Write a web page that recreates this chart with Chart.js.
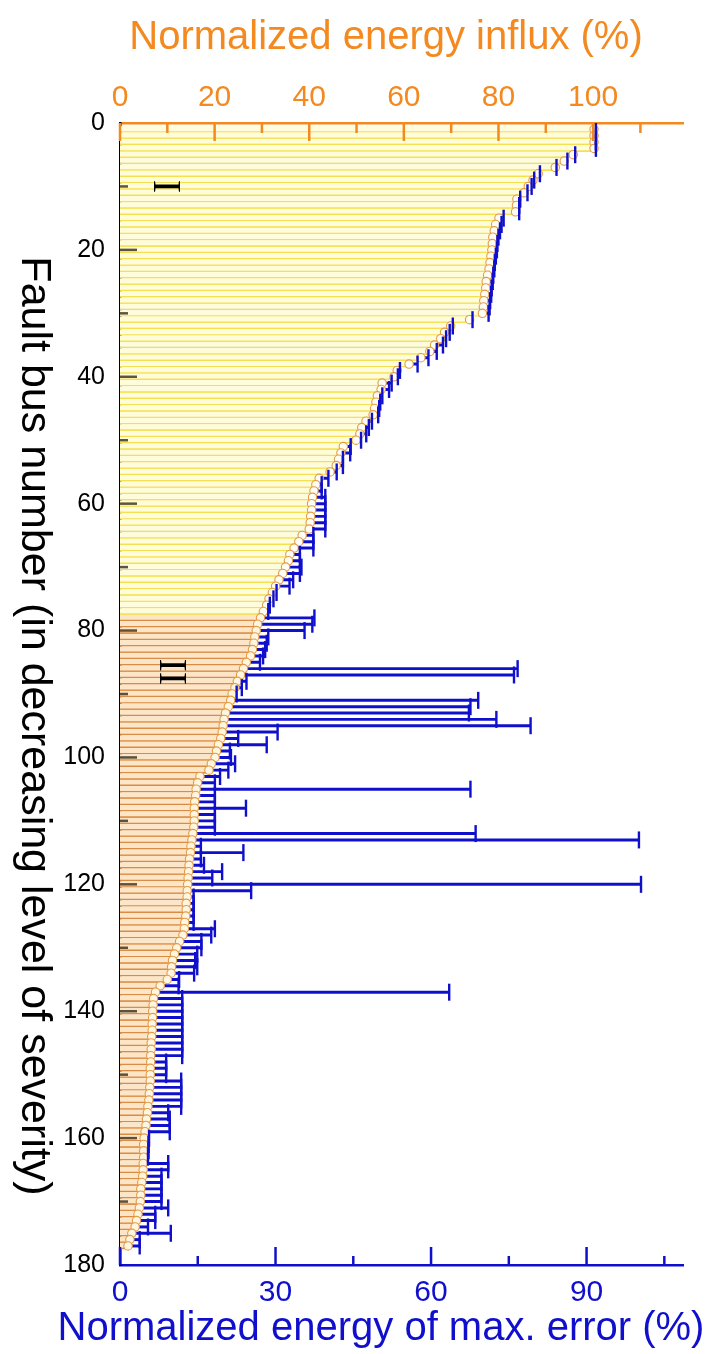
<!DOCTYPE html>
<html><head><meta charset="utf-8">
<script src="https://cdn.jsdelivr.net/npm/chart.js@4/dist/chart.umd.min.js"></script>
<style>html,body{margin:0;padding:0;background:#fff;}canvas{display:block;}</style>
</head><body>
<canvas id="c" width="708" height="1354"></canvas>
<script>
// Normalized energy influx (%) per fault bus, in decreasing level of severity (bus 1..177)
const influx = [
 100.2,100.2,100.2,100.2,95.8,93.9,92.0,88.4,87.3,86.3,
 85.4,83.9,83.8,83.6,80.1,79.4,79.1,78.8,78.7,78.6,
 78.4,78.2,78.0,77.7,77.4,77.3,77.1,76.9,76.8,76.6,
 73.9,69.9,68.6,67.8,66.5,65.5,63.6,61.1,58.6,57.9,
 55.4,55.2,54.4,54.1,53.8,53.5,52.0,51.1,50.7,49.9,
 47.2,46.7,46.2,45.7,44.4,42.1,41.4,41.0,40.7,40.5,
 40.5,40.3,40.2,40.0,38.5,37.8,36.8,35.9,35.6,35.0,
 34.4,33.6,32.9,32.2,31.5,31.0,30.3,29.7,29.1,28.8,
 28.5,28.3,28.0,27.6,26.7,26.1,25.5,24.8,24.3,23.7,
 23.4,22.9,22.3,22.0,21.8,21.6,21.3,20.8,20.4,20.1,
 19.3,18.8,16.9,16.4,16.1,16.0,15.8,15.7,15.7,15.7,
 15.6,15.4,15.2,15.0,14.9,14.7,14.6,14.5,14.4,14.3,
 14.2,14.2,14.0,14.0,13.9,13.7,13.6,13.3,12.6,12.0,
 11.5,11.1,10.9,10.8,10.0,8.5,7.5,7.1,7.0,6.9,
 6.9,6.8,6.8,6.7,6.6,6.6,6.5,6.5,6.4,6.4,
 6.4,6.3,6.2,6.1,5.9,5.8,5.6,5.5,5.3,5.1,
 5.0,5.0,5.0,4.9,4.9,4.8,4.6,4.4,4.4,4.3,
 4.1,3.8,3.5,3.2,2.5,2.1,1.7
];
// Normalized energy of max. error (%) per fault bus (end of blue error bar)
const maxError = [
 91.8,91.8,91.8,91.8,87.8,86.3,84.2,81.0,79.9,79.4,
 78.6,77.2,77.0,77.0,74.0,73.6,73.3,73.0,72.8,72.7,
 72.5,72.3,72.2,72.0,71.9,71.7,71.6,71.4,71.3,71.1,
 68.0,64.2,63.6,62.9,62.3,61.1,59.5,57.4,54.0,53.6,
 52.4,51.9,50.6,50.2,50.0,49.8,48.6,48.0,47.5,46.5,
 44.5,44.4,43.0,43.0,41.8,40.2,38.9,38.9,39.6,39.6,
 39.6,39.6,39.6,39.6,37.3,37.3,37.3,34.7,34.7,35.0,
 34.7,33.4,32.7,30.2,29.6,28.9,28.6,37.5,37.1,35.6,
 28.6,28.3,28.0,27.6,27.0,76.7,76.0,24.4,23.5,22.5,
 69.1,67.6,67.3,72.6,79.2,30.4,22.8,28.3,21.2,21.4,
 22.2,20.9,19.3,18.3,67.6,18.3,18.3,24.3,18.3,18.3,
 18.3,68.6,100.1,15.6,23.8,15.6,16.2,19.7,17.8,100.5,
 25.3,14.2,14.2,14.2,14.2,14.2,18.3,17.6,15.7,15.7,
 14.9,14.5,14.9,14.3,11.4,11.3,63.5,12.0,12.0,12.0,
 12.0,12.0,12.0,12.0,12.0,12.0,12.0,8.9,8.9,8.9,
 11.8,11.8,11.8,11.8,11.8,9.3,9.6,9.6,9.6,5.6,
 5.5,5.5,5.4,9.3,9.3,8.0,8.0,8.0,8.0,8.0,
 9.3,6.8,6.8,5.4,9.8,3.8,3.8
];
const lastBusOfGroupI = 77;           // buses 1..77 = group I, 78..177 = group II
const groupLabels = ['I', 'II'];
const topTickLabels = [0, 20, 40, 60, 80, 100];
const bottomTickLabels = [0, 30, 60, 90];
const leftTickLabels = [0, 20, 40, 60, 80, 100, 120, 140, 160, 180];
const titles = {
  top: 'Normalized energy influx (%)',
  bottom: 'Normalized energy of max. error (%)',
  left: 'Fault bus number (in decreasing level of severity)'
};
const busNumbers = influx.map((v, i) => i + 1);

const ORANGE = '#f3891f';
const BLUE = '#1010cc';
const FONT = "'Liberation Sans', Arial, sans-serif";

const inGroupI = (i) => busNumbers[i] <= lastBusOfGroupI;

const decorations = {
  id: 'decorations',
  afterDatasetsDraw(chart) {
    const {ctx, chartArea: a, scales} = chart;
    const xt = scales.xTop, xb = scales.x, y = scales.y;
    ctx.save();
    ctx.lineCap = 'butt';
    const seg = (x1, y1, x2, y2) => { ctx.beginPath(); ctx.moveTo(x1, y1); ctx.lineTo(x2, y2); ctx.stroke(); };
    // top axis inside ticks
    ctx.strokeStyle = ORANGE; ctx.lineWidth = 2.5;
    for (let v = 0; v <= 110; v += 10) {
      const px = xt.getPixelForValue(v);
      seg(px, a.top, px, a.top + (v % 20 === 0 ? 18 : 10));
    }
    // bottom axis inside ticks
    ctx.strokeStyle = BLUE;
    for (let v = 0; v <= 105; v += 15) {
      const px = xb.getPixelForValue(v);
      seg(px, a.bottom, px, a.bottom - (v % 30 === 0 ? 18 : 9));
    }
    // left axis inside ticks
    ctx.strokeStyle = 'rgba(40,30,10,0.75)';
    for (let v = 10; v < 180; v += 10) {
      const py = y.getPixelForValue(v);
      seg(a.left, py, a.left + (v % 20 === 0 ? 17 : 8), py);
    }
    // group labels (rotated)
    ctx.fillStyle = '#000';
    ctx.font = "40px 'Liberation Serif', 'Times New Roman', serif";
    ctx.textAlign = 'center'; ctx.textBaseline = 'middle';
    const marks = [[9.5, 10, groupLabels[0]], [10.6, 86.5, groupLabels[1]]];
    marks.forEach(([vx, vy, t]) => {
      ctx.save();
      ctx.translate(xt.getPixelForValue(vx), y.getPixelForValue(vy));
      ctx.rotate(Math.PI / 2);
      ctx.fillText(t, 0, 0);
      ctx.restore();
    });
    // axis titles
    ctx.textBaseline = 'alphabetic';
    ctx.font = '40px ' + FONT;
    ctx.fillStyle = ORANGE;
    ctx.fillText(titles.top, 386, 49);
    ctx.fillStyle = BLUE;
    ctx.fillText(titles.bottom, 381, 1340);
    ctx.save();
    ctx.font = '43px ' + FONT;
    ctx.fillStyle = '#000';
    ctx.textBaseline = 'middle';
    ctx.translate(34, 726);
    ctx.rotate(Math.PI / 2);
    ctx.fillText(titles.left, 0, 0);
    ctx.restore();
    ctx.restore();
  }
};

new Chart(document.getElementById('c'), {
  type: 'bar',
  data: {
    datasets: [
      {
        label: 'Max. error',
        xAxisID: 'x', yAxisID: 'y',
        data: maxError.map((e, i) => ({ y: busNumbers[i], x: [0, e] })),
        backgroundColor: BLUE,
        barThickness: 2.3,
        grouped: false,
        order: 4
      },
      {
        label: 'Energy influx',
        xAxisID: 'xTop', yAxisID: 'y',
        data: influx.map((v, i) => ({ y: busNumbers[i], x: v })),
        backgroundColor: influx.map((v, i) => inGroupI(i) ? '#fffcdc' : '#fde6c8'),
        borderColor: influx.map((v, i) => inGroupI(i) ? '#f4e050' : '#d88c45'),
        borderWidth: { top: 0, right: 0, left: 0, bottom: 1.7 },
        barPercentage: 1, categoryPercentage: 1,
        grouped: false,
        order: 3
      },
      {
        type: 'scatter',
        label: 'Influx marker',
        xAxisID: 'xTop', yAxisID: 'y',
        data: influx.map((v, i) => ({ y: busNumbers[i], x: v })),
        pointRadius: 4.2,
        pointBorderWidth: 1.1,
        pointBorderColor: '#e49a45',
        pointBackgroundColor: influx.map((v, i) => inGroupI(i) ? '#fffef6' : '#fff6e2'),
        order: 2
      },
      {
        type: 'scatter',
        label: 'Error cap',
        xAxisID: 'x', yAxisID: 'y',
        data: maxError.map((e, i) => ({ y: busNumbers[i], x: e })),
        pointStyle: 'line',
        rotation: 90,
        pointRadius: 8.5,
        pointBorderWidth: 2.4,
        pointBorderColor: BLUE,
        order: 1
      }
    ]
  },
  options: {
    indexAxis: 'y',
    responsive: false,
    animation: false,
    devicePixelRatio: 1,
    layout: { padding: { left: 0, right: 25, top: 0, bottom: 0 } },
    plugins: { legend: { display: false }, tooltip: { enabled: false } },
    scales: {
      xTop: {
        type: 'linear', position: 'top', min: 0, max: 119, offset: false,
        grid: { display: false, drawTicks: false },
        border: { display: true, color: ORANGE, width: 2.5 },
        ticks: {
          stepSize: 20, includeBounds: false, autoSkip: false, maxRotation: 0,
          color: ORANGE, font: { size: 30, family: FONT }, padding: 7,
          callback: (v) => topTickLabels.includes(v) ? String(v) : ''
        },
        afterFit: (s) => { s.height = 123; }
      },
      x: {
        type: 'linear', position: 'bottom', min: 0, max: 108.6, offset: false,
        grid: { display: false, drawTicks: false },
        border: { display: true, color: BLUE, width: 2.5 },
        ticks: {
          stepSize: 30, includeBounds: false, autoSkip: false, maxRotation: 0,
          color: BLUE, font: { size: 30, family: FONT }, padding: 10,
          callback: (v) => bottomTickLabels.includes(v) ? String(v) : ''
        },
        afterFit: (s) => { s.height = 89; }
      },
      y: {
        type: 'linear', position: 'left', reverse: true, min: 0, max: 180, offset: false,
        grid: { display: false, drawTicks: false },
        border: { display: true, color: '#000', width: 2.5 },
        ticks: {
          stepSize: 20, autoSkip: false, minRotation: 0, maxRotation: 0,
          color: '#000', font: { size: 25, family: FONT }, padding: 15,
          callback: (v) => leftTickLabels.includes(v) ? String(v) : ''
        },
        afterFit: (s) => { s.width = 120; }
      }
    }
  },
  plugins: [decorations]
});
</script>
</body></html>
